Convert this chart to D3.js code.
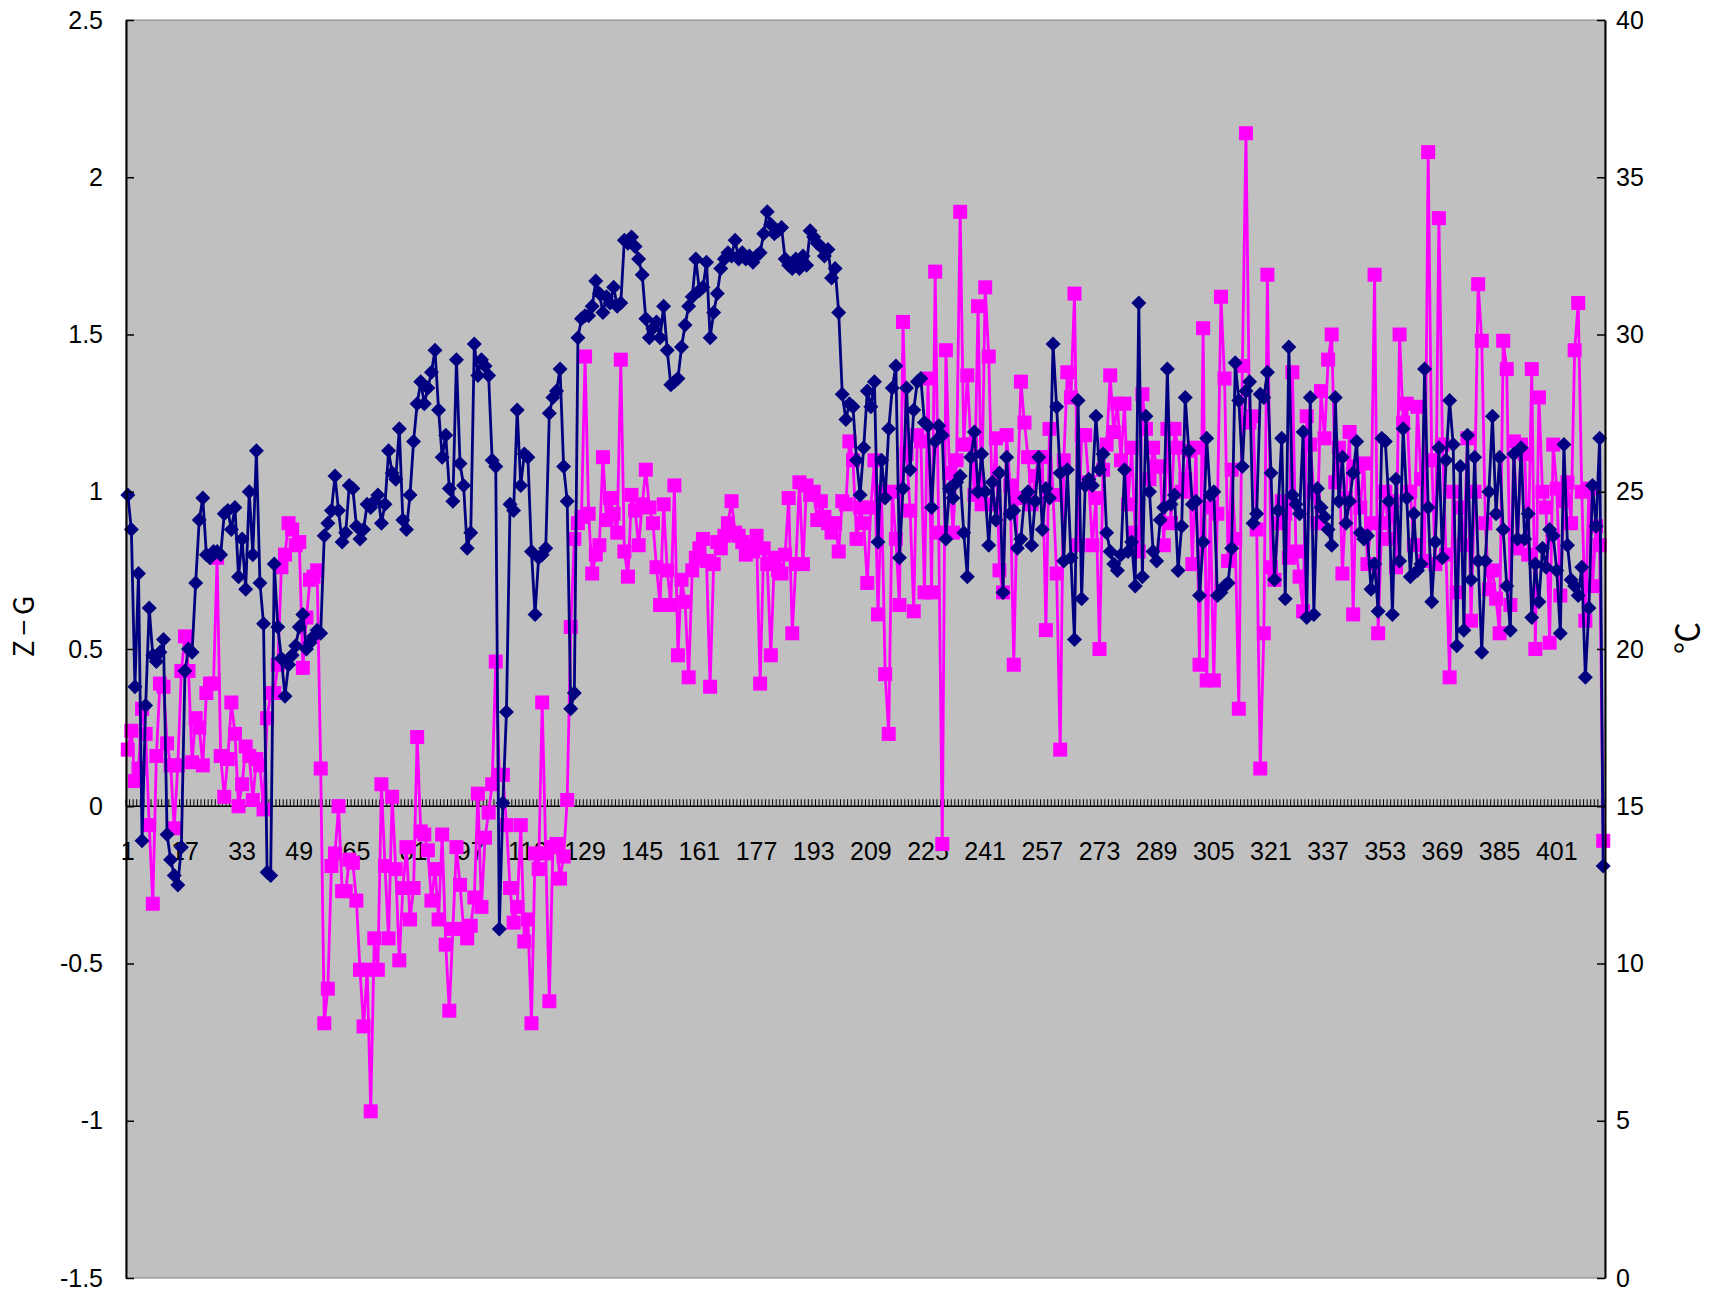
<!DOCTYPE html>
<html><head><meta charset="utf-8">
<script src="https://cdn.jsdelivr.net/npm/d3@7"></script>
<style>
html,body{margin:0;padding:0;background:#fff;}
svg{display:block;}
</style></head><body>
<svg id="c" width="1709" height="1298"></svg>
<script>
// Z−G series (left axis)
const zg = [
0.99,0.88,0.38,0.74,-0.11,0.32,0.63,0.48,0.46,0.49,
0.53,-0.09,-0.17,-0.22,-0.25,-0.13,0.43,0.50,0.49,0.71,
0.91,0.98,0.80,0.79,0.81,0.81,0.80,0.93,0.94,0.88,
0.95,0.73,0.85,0.69,1.00,0.80,1.13,0.71,0.58,-0.21,
-0.22,0.77,0.57,0.47,0.35,0.45,0.48,0.51,0.57,0.61,
0.50,0.52,0.54,0.56,0.55,0.86,0.90,0.94,1.05,0.94,
0.84,0.87,1.02,1.01,0.89,0.85,0.88,0.96,0.95,0.97,
0.99,0.90,0.96,1.13,1.06,1.04,1.20,0.91,0.88,0.99,
1.16,1.28,1.35,1.28,1.33,1.38,1.45,1.26,1.11,1.18,
1.01,0.97,1.42,1.09,1.02,0.82,0.87,1.47,1.37,1.42,
1.40,1.37,1.10,1.08,-0.39,0.01,0.30,0.96,0.94,1.26,
1.02,1.12,1.11,0.81,0.61,0.79,0.80,0.82,1.25,1.30,
1.32,1.39,1.08,0.97,0.31,0.36,1.49,1.55,1.56,1.56,
1.59,1.67,1.63,1.57,1.62,1.60,1.65,1.59,1.60,1.80,
1.79,1.81,1.78,1.74,1.69,1.55,1.49,1.52,1.54,1.49,
1.59,1.45,1.34,1.35,1.36,1.46,1.53,1.59,1.62,1.74,
1.64,1.65,1.73,1.49,1.57,1.63,1.71,1.74,1.76,1.75,
1.80,1.74,1.76,1.74,1.75,1.73,1.75,1.76,1.82,1.89,
1.85,1.82,1.83,1.84,1.74,1.72,1.71,1.74,1.71,1.75,
1.72,1.83,1.81,1.79,1.78,1.75,1.77,1.68,1.71,1.57,
1.31,1.23,1.28,1.27,1.10,0.99,1.14,1.32,1.27,1.35,
0.84,1.10,0.98,1.20,1.33,1.40,0.79,1.01,1.33,1.07,
1.26,1.35,1.36,1.22,1.21,0.95,1.16,1.21,1.18,0.85,
1.01,0.98,1.03,1.05,0.87,0.73,1.11,1.19,1.00,1.12,
1.00,0.83,1.03,0.91,1.06,0.68,1.11,0.93,0.94,0.82,
0.85,0.98,1.00,0.83,0.97,1.11,0.88,1.01,0.98,1.47,
1.27,1.06,0.78,1.07,0.79,0.53,1.29,0.66,1.02,1.04,
1.02,1.24,1.07,1.12,0.87,0.81,0.77,0.75,0.80,1.07,
0.81,0.84,0.70,1.60,0.73,1.24,1.00,0.81,0.78,0.91,
0.95,1.39,0.96,0.99,0.75,0.89,1.30,1.13,0.96,0.97,
0.67,0.84,1.17,0.99,1.00,0.67,0.68,0.70,0.71,0.82,
1.41,1.29,1.08,1.32,1.35,0.90,0.93,1.31,1.30,1.38,
1.06,0.72,0.94,1.17,0.66,1.46,0.99,0.96,0.93,1.19,
0.60,1.30,0.61,1.01,0.95,0.92,0.88,0.83,1.30,0.97,
1.11,0.90,0.97,1.06,1.16,0.87,0.85,0.86,0.69,0.77,
0.62,1.17,1.16,0.97,0.61,1.04,0.78,1.20,0.98,0.73,
0.93,0.75,0.77,1.39,0.95,0.65,0.84,1.14,0.79,1.10,
1.29,1.15,0.51,1.08,0.56,1.18,0.72,1.11,0.78,0.49,
0.78,1.00,1.24,0.93,1.11,0.88,0.70,0.56,1.12,0.85,
1.14,0.85,0.93,0.60,0.77,0.65,0.82,0.76,0.88,0.86,
0.75,0.55,1.15,0.83,0.72,0.70,0.67,0.76,0.41,0.63,
1.02,0.89,1.17,-0.19
];
// temperature series in ℃ (right axis)
const temp = [
16.8,17.4,15.8,16.2,18.1,17.3,14.4,11.9,16.6,18.9,
18.8,17.0,16.3,14.3,16.3,19.3,20.4,19.3,16.4,17.8,
17.5,16.3,18.6,18.9,18.9,22.9,16.6,15.3,16.5,18.3,
17.3,15.0,15.7,16.9,16.6,15.2,16.5,16.3,14.9,17.8,
18.6,18.6,19.5,22.6,23.0,24.0,23.8,23.3,23.4,19.4,
21.0,22.2,22.3,22.5,16.2,8.1,9.2,13.1,13.5,15.0,
12.3,12.3,13.3,13.2,12.0,9.8,8.0,9.8,5.3,10.8,
9.8,15.7,13.1,10.8,15.3,13.0,10.1,12.4,13.7,11.4,
12.4,17.2,14.2,14.1,13.6,12.0,13.0,11.4,14.1,10.6,
8.5,11.1,13.7,12.5,11.1,10.8,11.2,12.1,15.4,11.8,
14.0,14.8,15.7,19.6,16.0,16.0,14.4,12.4,11.3,11.8,
14.4,10.7,11.4,8.1,13.5,13.0,18.3,13.5,8.8,13.7,
13.8,12.7,13.4,15.2,20.7,23.5,24.0,24.2,29.3,24.3,
22.4,23.0,23.3,26.1,24.1,24.8,24.3,23.7,29.2,23.1,
22.3,24.9,24.4,23.3,24.6,25.7,24.5,24.0,22.6,21.4,
24.6,22.5,21.4,25.2,19.8,22.2,21.5,19.1,22.5,22.9,
23.2,23.5,22.8,18.8,22.7,23.4,23.2,23.6,24.0,24.7,
23.7,23.6,23.4,23.0,23.3,23.1,23.6,18.9,23.2,22.7,
19.8,22.9,22.5,22.4,23.0,24.8,20.5,22.7,25.3,22.7,
25.2,24.9,25.0,24.1,24.7,24.2,24.0,23.7,24.0,23.1,
24.7,24.6,26.6,26.0,23.5,24.5,24.0,22.1,24.5,26.0,
21.1,25.0,19.2,17.3,25.0,23.5,21.4,30.4,26.2,24.4,
21.2,26.8,26.6,21.8,28.6,21.8,32.0,23.7,13.8,29.5,
25.6,23.7,26.0,33.9,26.5,28.7,26.5,24.9,30.9,24.6,
31.5,29.3,24.6,26.7,22.5,21.8,26.8,25.2,19.5,24.8,
28.5,27.2,26.1,24.6,25.5,26.1,26.1,20.6,27.0,24.9,
22.4,16.8,26.0,28.8,28.0,31.3,23.3,26.8,26.8,25.3,
23.3,24.8,20.0,25.7,26.5,28.7,26.9,27.8,26.0,27.8,
24.6,26.4,23.7,23.1,28.1,27.0,25.4,26.4,25.8,25.8,
23.3,27.0,24.0,27.0,26.4,25.0,25.4,26.3,22.7,26.4,
19.5,30.2,19.0,24.5,19.0,24.3,31.2,28.6,22.8,25.7,
23.5,18.1,29.0,36.4,27.2,27.4,23.8,16.2,20.5,31.9,
22.6,22.2,24.0,24.7,24.3,22.9,28.8,23.1,22.3,21.2,
27.4,26.5,25.0,24.0,28.2,26.7,29.2,30.0,25.3,26.4,
22.4,24.8,26.9,21.1,25.8,24.5,25.9,22.7,24.0,31.9,
20.5,24.0,25.0,23.5,24.7,22.6,30.0,27.2,27.8,25.0,
23.3,27.7,25.4,22.8,35.8,26.0,22.7,33.7,26.5,23.0,
19.1,25.0,21.8,24.5,23.3,26.7,20.9,25.0,31.6,29.8,
24.0,21.9,22.5,21.6,20.5,29.8,28.9,21.4,26.6,23.2,
26.5,26.2,23.0,28.9,20.0,28.0,25.0,24.5,20.2,26.5,
25.1,21.7,24.7,25.3,24.0,29.5,31.0,25.0,20.9,25.1,
22.0,23.9,23.3,13.9
];
const categories = d3.range(1, zg.length + 1);
const xTickLabels = [1,17,33,49,65,81,97,113,129,145,161,177,193,209,225,241,257,273,289,305,321,337,353,369,385,401];
const leftTicks = [-1.5,-1,-0.5,0,0.5,1,1.5,2,2.5];
const rightTicks = [0,5,10,15,20,25,30,35,40];
const leftTitle = "Z\u2212G";
const rightTitle = "\u2103";

const m = {left:126, right:1605, top:20, bottom:1278};
const svg = d3.select("#c");
const numFont = "'Liberation Sans', Arial, sans-serif";

const x = d3.scaleBand().domain(categories).range([m.left, m.right]).padding(0);
const cx = c => x(c) + x.bandwidth() / 2;
const yL = d3.scaleLinear().domain([-1.5, 2.5]).range([m.bottom, m.top]);
const yR = d3.scaleLinear().domain([0, 40]).range([m.bottom, m.top]);

// plot area
svg.append("rect").attr("x", m.left).attr("y", m.top)
  .attr("width", m.right - m.left).attr("height", m.bottom - m.top)
  .attr("fill", "#C0C0C0").attr("stroke", "#808080").attr("stroke-width", 1);

// category axis at 0 with tick marks at every category boundary
const y0 = yL(0);
const bounds = categories.map(c => x(c)).concat([m.right]);
svg.append("g").selectAll("line").data(bounds).join("line")
  .attr("x1", d => d).attr("x2", d => d)
  .attr("y1", y0 - 7).attr("y2", y0)
  .attr("stroke", "#000").attr("stroke-width", 1);
svg.append("line").attr("x1", m.left).attr("x2", m.right)
  .attr("y1", y0).attr("y2", y0).attr("stroke", "#000").attr("stroke-width", 1.5);
svg.append("g").selectAll("text").data(xTickLabels).join("text")
  .attr("x", d => cx(d)).attr("y", y0 + 54)
  .attr("text-anchor", "middle")
  .attr("font-family", numFont).attr("font-size", 25).attr("fill", "#000")
  .text(d => String(d));

// temperature series (pink)
const lineR = d3.line().x((d, i) => cx(categories[i])).y(d => yR(d));
svg.append("path").datum(temp).attr("d", lineR)
  .attr("fill", "none").attr("stroke", "#FF00FF").attr("stroke-width", 2.8)
  .attr("stroke-linejoin", "round");
svg.append("g").selectAll("rect").data(temp).join("rect")
  .attr("x", (d, i) => cx(categories[i]) - 7)
  .attr("y", d => yR(d) - 7)
  .attr("width", 14).attr("height", 14)
  .attr("fill", "#FF00FF");

// Z−G series (navy)
const lineL = d3.line().x((d, i) => cx(categories[i])).y(d => yL(d));
svg.append("path").datum(zg).attr("d", lineL)
  .attr("fill", "none").attr("stroke", "#000080").attr("stroke-width", 2.8)
  .attr("stroke-linejoin", "round");
svg.append("g").selectAll("path").data(zg).join("path")
  .attr("transform", (d, i) => `translate(${cx(categories[i])},${yL(d)})`)
  .attr("d", "M0,-7.5L7.5,0L0,7.5L-7.5,0Z")
  .attr("fill", "#000080");

// left axis
const gL = svg.append("g").attr("transform", `translate(${m.left},0)`)
  .call(d3.axisLeft(yL).tickValues(leftTicks).tickSize(-8).tickSizeOuter(0)
    .tickPadding(23).tickFormat(d => String(d)));
gL.select(".domain").attr("stroke", "#000").attr("stroke-width", 2);
gL.selectAll(".tick line").attr("stroke", "#000").attr("stroke-width", 1.5);
gL.selectAll(".tick text").attr("font-family", numFont).attr("font-size", 25).attr("fill", "#000");

// right axis
const gR = svg.append("g").attr("transform", `translate(${m.right},0)`)
  .call(d3.axisRight(yR).tickValues(rightTicks).tickSize(-8).tickSizeOuter(0)
    .tickPadding(11).tickFormat(d => String(d)));
gR.select(".domain").attr("stroke", "#000").attr("stroke-width", 2);
gR.selectAll(".tick line").attr("stroke", "#000").attr("stroke-width", 1.5);
gR.selectAll(".tick text").attr("font-family", numFont).attr("font-size", 25).attr("fill", "#000");

// axis titles
svg.append("text").attr("transform", "translate(34,624) rotate(-90)")
  .attr("text-anchor", "middle")
  .attr("font-family", "'Noto Sans CJK JP', sans-serif").attr("font-size", 28)
  .attr("letter-spacing", 5).attr("fill", "#000")
  .text(leftTitle);
svg.append("text").attr("transform", "translate(1699,638) rotate(-90)")
  .attr("text-anchor", "middle")
  .attr("font-family", "'Noto Sans CJK JP', sans-serif").attr("font-size", 32).attr("fill", "#000")
  .text(rightTitle);
</script>
</body></html>
